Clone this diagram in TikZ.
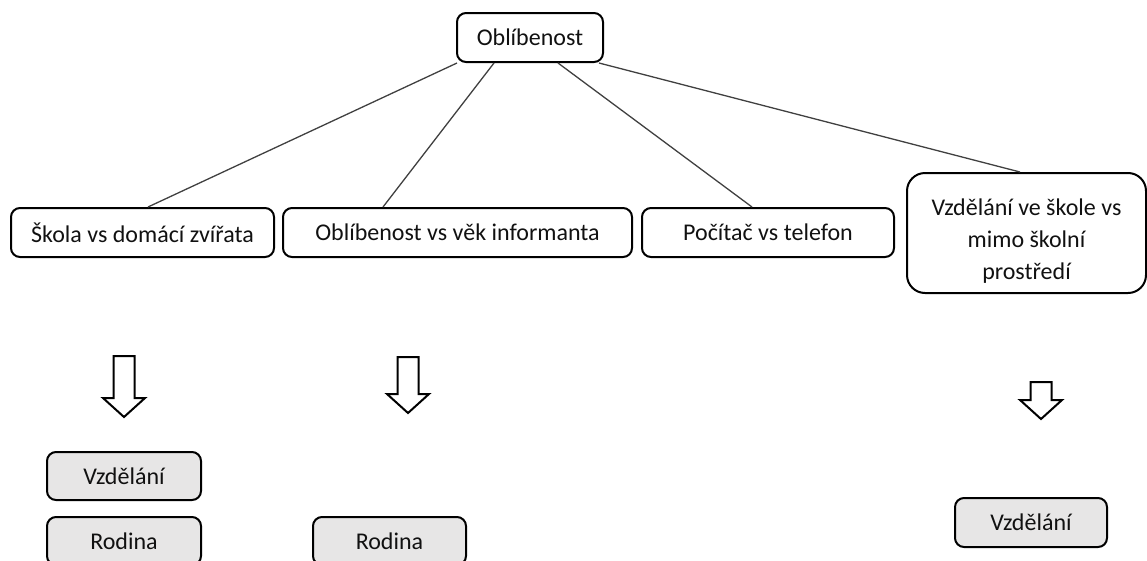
\documentclass[tikz,border=0pt]{standalone}
\usepackage{fontspec}
\setmainfont{Carlito}
\definecolor{boxfill}{HTML}{E7E6E6}
\definecolor{linkcol}{HTML}{404040}
\definecolor{inkcol}{HTML}{111111}
\tikzset{
  topic/.style={draw=black, line width=2pt, rounded corners=9pt, inner sep=0pt,
    align=center, text=inkcol, font=\fontsize{24}{32}\selectfont},
  plaintext/.style={inner sep=0pt, align=center, text=inkcol, font=\fontsize{24}{32}\selectfont},
  leaf/.style={topic, fill=boxfill},
  link/.style={draw=linkcol, line width=1.3pt},
  arrowline/.style={draw=black, line width=2pt, fill=white, line join=miter},
  pics/downarrow/.style={code={
    \draw[arrowline] (-10.5,0) -- (-10.5,#1) -- (-21,#1) -- (0,{#1+19})
      -- (21,#1) -- (10.5,#1) -- (10.5,0) -- cycle;}}
}
\begin{document}
\begin{tikzpicture}[x=1pt, y=-1pt]
\useasboundingbox (0,0) rectangle (1147,560);
\clip (0,0) rectangle (1147,560);

% main topic
\node[topic, minimum width=146pt, minimum height=49pt] (top) at (530,37.5) {Oblíbenost};

% sub-topics
\node[topic, minimum width=263pt, minimum height=49pt] (n1) at (142.5,232.5) {Škola vs domácí zvířata};
\node[topic, minimum width=349pt, minimum height=49pt] (n2) at (457.5,232.5) {Oblíbenost vs věk informanta};
\node[topic, minimum width=252pt, minimum height=49pt] (n3) at (768,232.5) {Počítač vs telefon};
\node[topic, minimum width=239pt, minimum height=120pt, rounded corners=18pt] (n4) at (1026.5,233) {};
\node[plaintext] (n4text) at ([yshift=-8pt]n4.center) {Vzdělání ve škole vs\\mimo školní\\prostředí};

% connectors
\draw[link] ([xshift=1pt]top.south west) -- ([xshift=5.5pt]n1.north);
\draw[link] ([xshift=38pt]top.south west) -- ([xshift=101pt]n2.north west);
\draw[link] ([xshift=28pt]top.south) -- ([xshift=-16pt]n3.north);
\draw[link] ([xshift=-5pt]top.south east) -- ([xshift=-6.5pt]n4.north);

% block arrows
\pic at (124,356) {downarrow=42};
\pic at (408,357) {downarrow=37};
\pic at (1041,382) {downarrow=18};

% results
\node[leaf, minimum width=154pt, minimum height=48pt] (b1) at (124,476) {Vzdělání};
\node[leaf, minimum width=154pt, minimum height=48pt] (b2) at (124,541) {Rodina};
\node[leaf, minimum width=153pt, minimum height=48pt] (b3) at (389.5,541) {Rodina};
\node[leaf, minimum width=152pt, minimum height=49pt] (b4) at (1031,522.5) {Vzdělání};
\end{tikzpicture}
\end{document}
